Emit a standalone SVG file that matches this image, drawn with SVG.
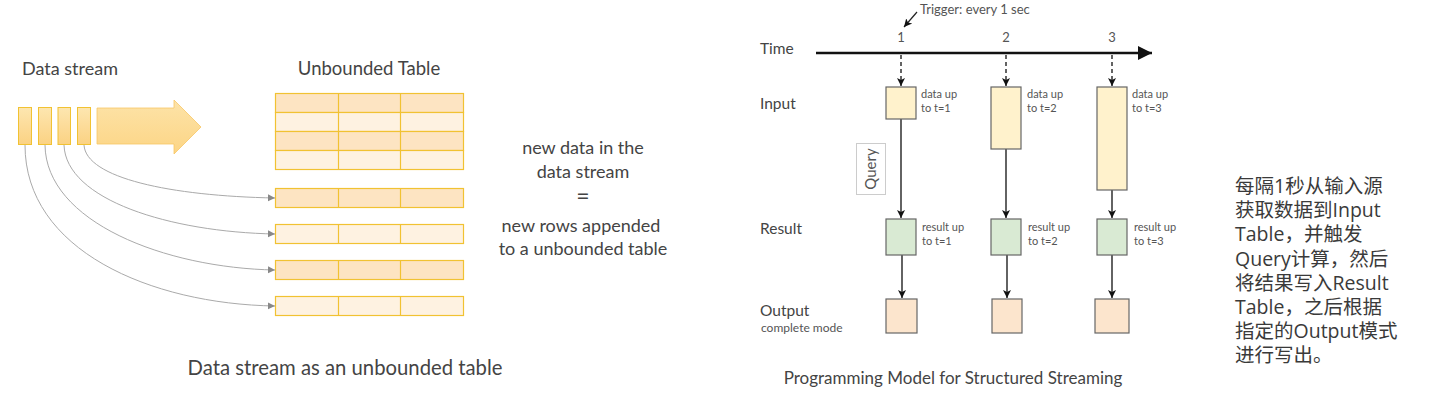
<svg xmlns="http://www.w3.org/2000/svg" width="1438" height="404" viewBox="0 0 1438 404">
<defs>
<style>
text{font-family:Lato,"Open Sans","Liberation Sans",sans-serif;fill:#444}
.lbl{font-size:18px}
.sm{font-size:11px;fill:#555}
.cn{font-family:"Open Sans","Noto Sans CJK SC",sans-serif;font-size:19.5px;fill:#3a3a3a}
.srect{fill:url(#sg);stroke:#f1c232;stroke-width:1}
.row1{fill:#fde4c2;stroke:#f1c232;stroke-width:1.2}
.row2{fill:#fef2e1;stroke:#f1c232;stroke-width:1.2}
.col{stroke:#f1c232;stroke-width:1.2}
.curve{fill:none;stroke:#aaa;stroke-width:1;marker-end:url(#ga)}
.inp{fill:#fff2cc;stroke:#666;stroke-width:1.2}
.res{fill:#d9ead3;stroke:#666;stroke-width:1.2}
.out{fill:#fce5cd;stroke:#666;stroke-width:1.2}
.flow{stroke:#222;stroke-width:1.4;fill:none;marker-end:url(#ba)}
.dash{stroke:#222;stroke-width:1.4;stroke-dasharray:4,3;fill:none;marker-end:url(#ba)}
</style>
<linearGradient id="sg" x1="0" y1="0" x2="0" y2="1"><stop offset="0" stop-color="#fde6b0"/><stop offset="1" stop-color="#fbd283"/></linearGradient>
<linearGradient id="ag" x1="0" y1="0" x2="0" y2="1"><stop offset="0" stop-color="#fde3a8"/><stop offset="1" stop-color="#fcd585"/></linearGradient>
<marker id="ga" markerWidth="8" markerHeight="8" refX="7" refY="4" orient="auto" markerUnits="userSpaceOnUse"><path d="M0,0.5 L7,4 L0,7.5 Z" fill="#888"/></marker>
<marker id="ba" markerWidth="10" markerHeight="10" refX="8" refY="5" orient="auto" markerUnits="userSpaceOnUse"><path d="M0,1 L8,5 L0,9 L2,5 Z" fill="#111"/></marker>
<marker id="ta" markerWidth="16" markerHeight="14" refX="14" refY="7" orient="auto" markerUnits="userSpaceOnUse"><path d="M0,0 L14,7 L0,14 Z" fill="#111"/></marker>
</defs>

<g id="left-stream">
<text class="lbl" x="22" y="75">Data stream</text>
<rect class="srect" x="18.5" y="107.5" width="13" height="37"/>
<rect class="srect" x="38.5" y="107.5" width="13" height="37"/>
<rect class="srect" x="58" y="107.5" width="12.5" height="37"/>
<rect class="srect" x="77.5" y="107.5" width="13" height="37"/>
<path d="M97,108 L174,108 L174,100 L201,127 L174,154 L174,144 L97,144 Z" fill="url(#ag)" stroke="#f7c766" stroke-width="0.8"/>
</g>

<g id="unbounded-table">
<text class="lbl" x="369" y="75" text-anchor="middle" style="font-size:18.5px">Unbounded Table</text>
<rect class="row1" x="275.5" y="93.5" width="188" height="19"/>
<rect class="row2" x="275.5" y="112.5" width="188" height="19"/>
<rect class="row1" x="275.5" y="131.5" width="188" height="19"/>
<rect class="row2" x="275.5" y="150.5" width="188" height="19"/>
<line class="col" x1="338.5" y1="93.5" x2="338.5" y2="169.5"/>
<line class="col" x1="400.5" y1="93.5" x2="400.5" y2="169.5"/>
</g>

<g id="new-rows">
<rect class="row1" x="275.5" y="188.5" width="188" height="19"/>
<line class="col" x1="338.5" y1="188.5" x2="338.5" y2="207.5"/>
<line class="col" x1="400.5" y1="188.5" x2="400.5" y2="207.5"/>
<rect class="row2" x="275.5" y="224.5" width="188" height="19"/>
<line class="col" x1="338.5" y1="224.5" x2="338.5" y2="243.5"/>
<line class="col" x1="400.5" y1="224.5" x2="400.5" y2="243.5"/>
<rect class="row1" x="275.5" y="260.5" width="188" height="19"/>
<line class="col" x1="338.5" y1="260.5" x2="338.5" y2="279.5"/>
<line class="col" x1="400.5" y1="260.5" x2="400.5" y2="279.5"/>
<rect class="row2" x="275.5" y="296.5" width="188" height="19"/>
<line class="col" x1="338.5" y1="296.5" x2="338.5" y2="315.5"/>
<line class="col" x1="400.5" y1="296.5" x2="400.5" y2="315.5"/>
</g>

<g id="stream-connectors">
<path class="curve" d="M84,145 C86,178 170,196 275,198"/>
<path class="curve" d="M64,145 C66,200 170,232 275,234"/>
<path class="curve" d="M45,145 C46,222 165,268 275,270"/>
<path class="curve" d="M25,145 C25,250 150,304 275,306"/>
</g>

<g id="equation">
<text class="lbl" x="583" y="154" text-anchor="middle">new data in the</text>
<text class="lbl" x="583" y="178" text-anchor="middle">data stream</text>
<text class="lbl" x="583" y="204" text-anchor="middle" style="font-size:23px">=</text>
<text class="lbl" x="581" y="232" text-anchor="middle">new rows appended</text>
<text class="lbl" x="583" y="255" text-anchor="middle">to a unbounded table</text>
</g>

<text x="345" y="375" text-anchor="middle" style="font-size:20.3px">Data stream as an unbounded table</text>

<g id="timeline">
<text x="920" y="14" style="font-size:13px;fill:#555">Trigger: every 1 sec</text>
<line x1="917" y1="12" x2="904" y2="27" stroke="#222" stroke-width="1.2" marker-end="url(#ba)"/>
<text x="760" y="54" style="font-size:15.5px">Time</text>
<text x="901" y="42" text-anchor="middle" style="font-size:13px;fill:#555">1</text>
<text x="1006" y="42" text-anchor="middle" style="font-size:13px;fill:#555">2</text>
<text x="1112" y="42" text-anchor="middle" style="font-size:13px;fill:#555">3</text>
<line x1="816" y1="53" x2="1152" y2="53" stroke="#111" stroke-width="2.5" marker-end="url(#ta)"/>
</g>

<g id="row-labels">
<text x="760" y="109" style="font-size:15.5px">Input</text>
<text x="760" y="234" style="font-size:15.5px">Result</text>
<text x="760" y="316" style="font-size:15.5px">Output</text>
<text x="761" y="332" style="font-size:12px;fill:#555">complete mode</text>
</g>

<g id="query">
<rect x="856.5" y="143.5" width="29" height="51" fill="#fff" stroke="#ccc" stroke-width="1"/>
<text transform="translate(876,169) rotate(-90)" text-anchor="middle" style="font-size:15px;fill:#555">Query</text>
</g>

<g id="connectors">
<path class="dash" d="M901,55 L901,86"/>
<path class="dash" d="M1006,55 L1006,86"/>
<path class="dash" d="M1112,55 L1112,86"/>
<path class="flow" d="M901,119 L901,218"/>
<path class="flow" d="M1006,149 L1006,218"/>
<path class="flow" d="M1112,190 L1112,218"/>
<path class="flow" d="M902,255 L902,298"/>
<path class="flow" d="M1007,255 L1007,298"/>
<path class="flow" d="M1112,255 L1112,298"/>
</g>

<g id="batch-1">
<rect class="inp" x="886" y="87" width="30" height="32"/>
<text class="sm" x="921" y="98">data up</text>
<text class="sm" x="921" y="112">to t=1</text>
<rect class="res" x="886" y="219" width="30" height="36"/>
<text class="sm" x="922" y="231">result up</text>
<text class="sm" x="922" y="245">to t=1</text>
<rect class="out" x="886" y="299" width="31" height="34"/>
</g>
<g id="batch-2">
<rect class="inp" x="991" y="87" width="30" height="62"/>
<text class="sm" x="1027" y="98">data up</text>
<text class="sm" x="1027" y="112">to t=2</text>
<rect class="res" x="991" y="219" width="30" height="36"/>
<text class="sm" x="1028" y="231">result up</text>
<text class="sm" x="1028" y="245">to t=2</text>
<rect class="out" x="992" y="299" width="30" height="34"/>
</g>
<g id="batch-3">
<rect class="inp" x="1097" y="87" width="30" height="103"/>
<text class="sm" x="1132" y="98">data up</text>
<text class="sm" x="1132" y="112">to t=3</text>
<rect class="res" x="1097" y="219" width="30" height="36"/>
<text class="sm" x="1134" y="231">result up</text>
<text class="sm" x="1134" y="245">to t=3</text>
<rect class="out" x="1095" y="299" width="34" height="34"/>
</g>

<text x="953" y="384" text-anchor="middle" style="font-size:17px">Programming Model for Structured Streaming</text>

<g id="note">
<text class="cn" x="1235" y="193"><tspan x="1235">每隔1秒从输入源</tspan><tspan x="1235" dy="24">获取数据到Input</tspan><tspan x="1235" dy="24">Table，并触发</tspan><tspan x="1235" dy="24.5">Query计算，然后</tspan><tspan x="1235" dy="24">将结果写入Result</tspan><tspan x="1235" dy="24">Table，之后根据</tspan><tspan x="1235" dy="24">指定的Output模式</tspan><tspan x="1235" dy="24">进行写出。</tspan></text>
</g>
</svg>
